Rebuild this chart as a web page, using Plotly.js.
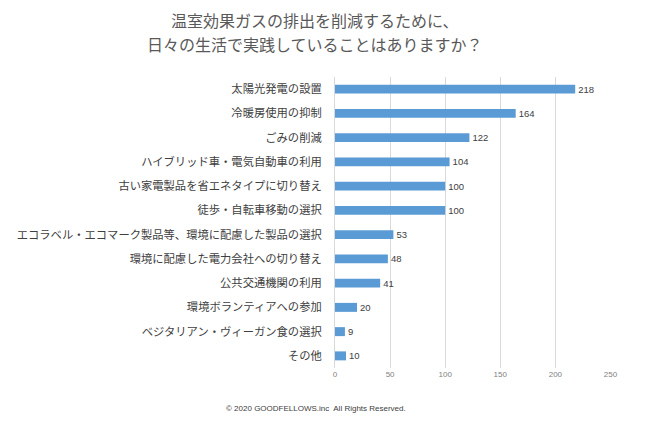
<!DOCTYPE html>
<html>
<head>
<meta charset="utf-8">
<script src="https://cdn.plot.ly/plotly-3.0.1.min.js"></script>
<style>html,body{margin:0;padding:0;background:#fff;}#chart{width:650px;height:427px;}</style>
</head>
<body>
<div id="chart"></div>
<script>
const categories = [
  "太陽光発電の設置",
  "冷暖房使用の抑制",
  "ごみの削減",
  "ハイブリッド車・電気自動車の利用",
  "古い家電製品を省エネタイプに切り替え",
  "徒歩・自転車移動の選択",
  "エコラベル・エコマーク製品等、環境に配慮した製品の選択",
  "環境に配慮した電力会社への切り替え",
  "公共交通機関の利用",
  "環境ボランティアへの参加",
  "ベジタリアン・ヴィーガン食の選択",
  "その他"
];
const values = [218, 164, 122, 104, 100, 100, 53, 48, 41, 20, 9, 10];
const xTicks = [0, 50, 100, 150, 200, 250];
const titleLines = ["温室効果ガスの排出を削減するために、", "日々の生活で実践していることはありますか？"];
const footer = "© 2020 GOODFELLOWS.inc  All Rights Reserved.";

const jp = '"Noto Sans CJK JP", "Noto Sans", sans-serif';
const plotTop = 77, plotH = 291, plotL = 335, plotW = 276;
const py = (pix) => 1 - (pix - plotTop) / plotH;   // pixel y -> paper y
const px = (pix) => (pix - plotL) / plotW;          // pixel x -> paper x

const trace = {
  type: 'bar',
  orientation: 'h',
  x: values,
  y: categories,
  width: 0.37,
  marker: {color: '#5B9BD5', line: {width: 0}},
  text: values.map(String),
  textposition: 'outside',
  cliponaxis: false,
  textfont: {family: 'Liberation Sans, Arial, sans-serif', size: 9.5, color: '#404040'},
  hoverinfo: 'none'
};

const annotations = titleLines.map((t, i) => ({
  text: t,
  xref: 'paper', yref: 'paper',
  x: px(315), xanchor: 'center',
  y: py(20 + i * 24), yanchor: 'middle',
  showarrow: false,
  font: {family: jp, size: 16, color: '#595959'}
}));
annotations.push({
  text: footer,
  xref: 'paper', yref: 'paper',
  x: px(316), xanchor: 'center',
  y: py(408), yanchor: 'middle',
  showarrow: false,
  font: {family: 'Liberation Sans, Arial, sans-serif', size: 8, color: '#404040'}
});

const layout = {
  width: 650, height: 427,
  margin: {l: 335, r: 39, t: 77, b: 59},
  paper_bgcolor: '#ffffff',
  plot_bgcolor: '#ffffff',
  showlegend: false,
  uniformtext: {mode: false},
  xaxis: {
    range: [0, 250.5],
    tickvals: xTicks,
    ticktext: xTicks.map(String),
    showgrid: true,
    gridcolor: '#d9d9d9',
    gridwidth: 1,
    zeroline: false,
    showline: false,
    ticks: '',
    tickfont: {family: 'Liberation Sans, Arial, sans-serif', size: 8, color: '#7f7f7f'},
    fixedrange: true
  },
  yaxis: {
    type: 'category',
    autorange: 'reversed',
    showgrid: false,
    zeroline: false,
    showline: true,
    linecolor: '#d9d9d9',
    linewidth: 1,
    ticks: '',
    ticklabelstandoff: 10,
    tickfont: {family: jp, size: 11.3, color: '#404040'},
    fixedrange: true
  },
  annotations: annotations
};
trace.constraintext = 'none';

Plotly.newPlot('chart', [trace], layout, {displayModeBar: false, staticPlot: true});
</script>
</body>
</html>
